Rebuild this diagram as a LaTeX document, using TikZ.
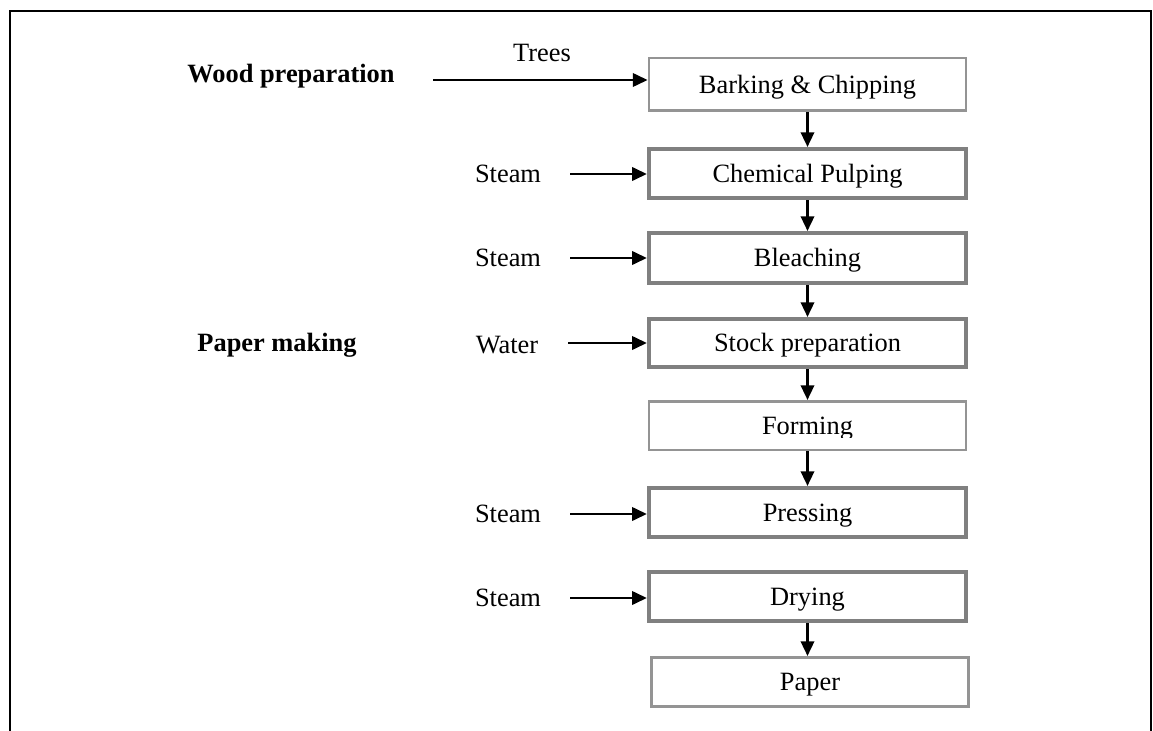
\documentclass[tikz,border=0pt]{standalone}
\usepackage{fontspec}
\setmainfont{Liberation Serif}
\usetikzlibrary{arrows.meta}
\begin{document}
\begin{tikzpicture}[x=0.75pt,y=-0.75pt,
  every node/.style={font=\fontsize{19.8pt}{23pt}\selectfont, inner sep=0pt},
  stage/.style={minimum width=238pt, text height=15.4pt, text depth=2pt},
  thinstage/.style={stage, line width=1.9pt, draw=black!42},
  thickstage/.style={stage, line width=3pt, draw=black!50},
  label/.style={anchor=base},
  heading/.style={anchor=base, font=\fontsize{19.8pt}{23pt}\selectfont\bfseries},
  flow/.style={line width=1.8pt, -{Triangle[length=11pt,width=10pt]}},
  frame/.style={line width=1.9pt}]
\useasboundingbox (0,0) rectangle (1153,731);

% outer frame (open at the bottom)
\draw[frame] (10,740) -- (10,11) -- (1151,11) -- (1151,740);

% section headings
\node[heading] (woodprep) at (291,83) {Wood preparation};
\node[heading] (papermaking) at (277,351) {Paper making};

% process stages
\node[thinstage,  minimum height=39.4pt] (bark)  at (807.5,84.5)  {Barking \& Chipping};
\node[thickstage, minimum height=36.8pt] (chem)  at (807.5,173.5) {Chemical Pulping};
\node[thickstage, minimum height=37.5pt] (bleach) at (807.5,258)  {Bleaching};
\node[thickstage, minimum height=36pt]   (stock) at (807.5,343)   {Stock preparation};
\node[thinstage,  minimum height=36.4pt] (form)  at (807.5,425.5) {};
\begin{scope}
  \clip (640,395) rectangle (975,437.5);
  \node[stage] (formtext) at (form.center) {Forming};
\end{scope}
\node[thickstage, minimum height=36.8pt] (press) at (807.5,512.5) {Pressing};
\node[thickstage, minimum height=36.8pt] (dry)   at (807.5,596.5) {Drying};
\node[thinstage,  minimum height=37.1pt] (paper) at (810,682)     {Paper};

% inputs
\node[label] (trees)  at (542,62)  {Trees};
\node[label] (steam1) at (508,183) {Steam};
\node[label] (steam2) at (508,267) {Steam};
\node[label] (water)  at (507,353) {Water};
\node[label] (steam3) at (508,522) {Steam};
\node[label] (steam4) at (508,606) {Steam};

\coordinate (treesin)  at (433,80);
\coordinate (steam1in) at (570,174);
\coordinate (steam2in) at (570,258);
\coordinate (waterin)  at (568,343);
\coordinate (steam3in) at (570,514);
\coordinate (steam4in) at (570,598);

\draw[flow] (treesin)  -- (treesin  -| bark.west);
\draw[flow] (steam1in) -- (steam1in -| chem.west);
\draw[flow] (steam2in) -- (steam2in -| bleach.west);
\draw[flow] (waterin)  -- (waterin  -| stock.west);
\draw[flow] (steam3in) -- (steam3in -| press.west);
\draw[flow] (steam4in) -- (steam4in -| dry.west);

% main line of the process
\draw[flow] (bark.south)   -- (chem.north);
\draw[flow] (chem.south)   -- (bleach.north);
\draw[flow] (bleach.south) -- (stock.north);
\draw[flow] (stock.south)  -- (form.north);
\draw[flow] (form.south)   -- (press.north);
\draw[flow] (dry.south)    -- (dry.south |- paper.north);
\end{tikzpicture}
\end{document}
